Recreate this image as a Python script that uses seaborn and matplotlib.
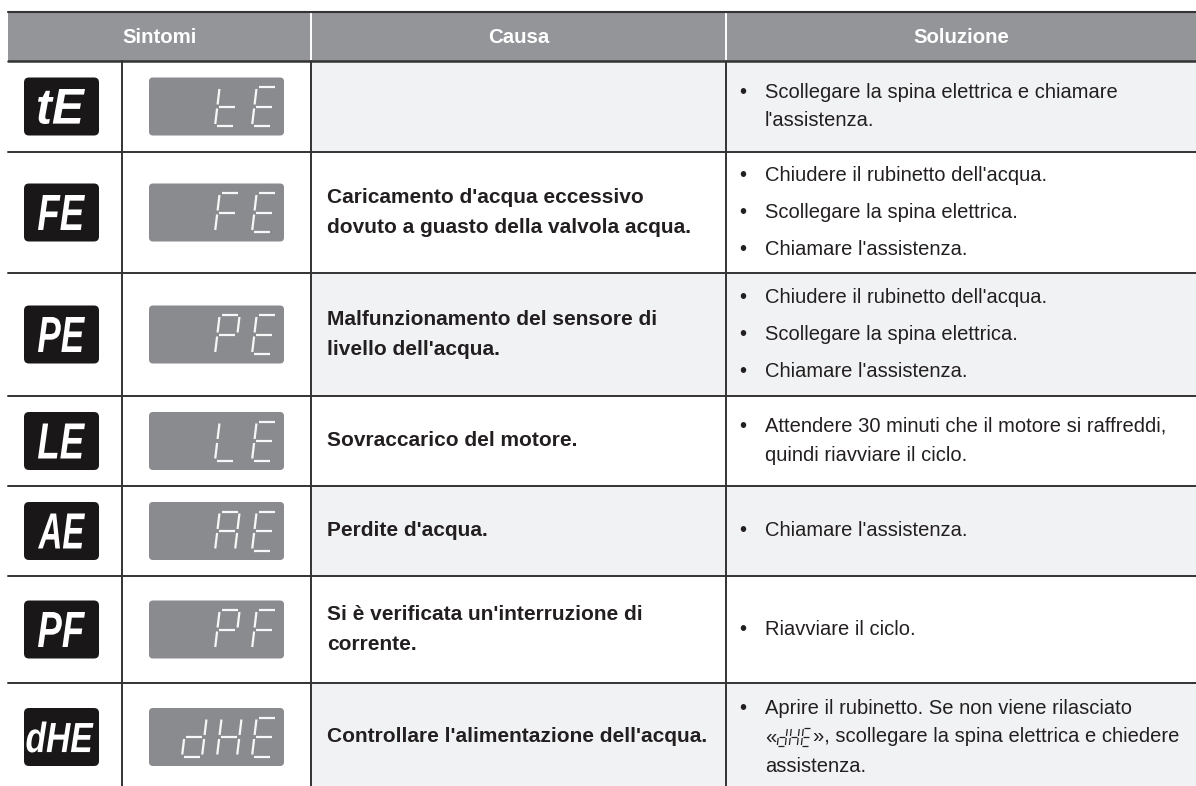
import re
import matplotlib
matplotlib.use("Agg")
import matplotlib.pyplot as plt
import matplotlib.transforms as mtransforms
import seaborn as sns
from matplotlib.patches import Rectangle, FancyBboxPatch, PathPatch
from matplotlib.textpath import TextPath
from matplotlib.font_manager import FontProperties

# -----------------------------
# TABLE CONTENT
# -----------------------------
headers = ["Sintomi", "Causa", "Soluzione"]

codes = ["tE", "FE", "PE", "LE", "AE", "PF", "dHE"]

causes = [
    [],
    ["Caricamento d'acqua eccessivo", "dovuto a guasto della valvola acqua."],
    ["Malfunzionamento del sensore di", "livello dell'acqua."],
    ["Sovraccarico del motore."],
    ["Perdite d'acqua."],
    ["Si è verificata un'interruzione di", "corrente."],
    ["Controllare l'alimentazione dell'acqua."],
]

solutions = [
    [["Scollegare la spina elettrica e chiamare", "l'assistenza."]],
    [["Chiudere il rubinetto dell'acqua."], ["Scollegare la spina elettrica."], ["Chiamare l'assistenza."]],
    [["Chiudere il rubinetto dell'acqua."], ["Scollegare la spina elettrica."], ["Chiamare l'assistenza."]],
    [["Attendere 30 minuti che il motore si raffreddi,", "quindi riavviare il ciclo."]],
    [["Chiamare l'assistenza."]],
    [["Riavviare il ciclo."]],
    [["Aprire il rubinetto. Se non viene rilasciato",
      "«{dHE}», scollegare la spina elettrica e chiedere",
      "assistenza."]],
]

shaded = [True, False, True, False, True, False, True]

# -----------------------------
# LAYOUT (pixels)
# -----------------------------
W, H = 1196, 786
x_left, x_c1, x_c2, x_c3, x_right = 8, 122, 311, 726, 1196
y_head_top, y_head_bot = 12, 61
row_heights = [91, 121, 123, 90, 90, 107, 108]

header_col = "#939598"
shade_col = "#f1f2f4"
line_col = "#333333"
text_col = "#231f20"
disp_col = "#8a8b8e"

SEG = {"t": "defg", "E": "adefg", "F": "aefg", "P": "abefg",
       "L": "def", "A": "abcefg", "d": "bcdeg", "H": "bcefg"}

sns.set_theme(style="white")
plt.rcParams["font.family"] = ["Liberation Sans", "DejaVu Sans"]

fig = plt.figure(figsize=(W / 100, H / 100), dpi=100)
ax = fig.add_axes([0, 0, 1, 1])
ax.set_xlim(0, W)
ax.set_ylim(H, 0)
ax.axis("off")
renderer = fig.canvas.get_renderer()


def seven_seg(ax, ch, x0, ytop, w, h, color, lw, gap=2.0, slant=0.12):
    segs = {
        "a": [(gap, 0), (w - gap, 0)],
        "b": [(w, gap), (w, h / 2 - gap)],
        "c": [(w, h / 2 + gap), (w, h - gap)],
        "d": [(gap, h), (w - gap, h)],
        "e": [(0, h / 2 + gap), (0, h - gap)],
        "f": [(0, gap), (0, h / 2 - gap)],
        "g": [(gap, h / 2), (w - gap, h / 2)],
    }
    for s in SEG[ch]:
        xs = [x0 + px + (h - py) * slant for px, py in segs[s]]
        ys = [ytop + py for px, py in segs[s]]
        ax.plot(xs, ys, color=color, lw=lw, solid_capstyle="butt")


def icon_text(ax, s, cx, cy, w, h):
    fp = FontProperties(family="Liberation Sans", weight="bold", style="italic")
    tp = TextPath((0, 0), s, size=100, prop=fp)
    bb = tp.get_extents()
    tr = (mtransforms.Affine2D()
          .translate(-bb.x0 - bb.width / 2, -bb.y0 - bb.height / 2)
          .scale(w / bb.width, -h / bb.height)
          .translate(cx, cy))
    ax.add_patch(PathPatch(tr.transform_path(tp), fc="white", ec="none"))


# -----------------------------
# HEADER
# -----------------------------
ax.add_patch(Rectangle((x_left, y_head_top), x_right - x_left, y_head_bot - y_head_top,
                       fc=header_col, ec="none"))
for xv in [x_c2, x_c3]:
    ax.plot([xv, xv], [y_head_top, y_head_bot], color="white", lw=1.4)
head_centers = [(x_left + x_c2) / 2, (x_c2 + x_c3) / 2, (x_c3 + x_right) / 2]
for hx, label in zip(head_centers, headers):
    ax.text(hx, (y_head_top + y_head_bot) / 2 + 1, label, color="white", fontsize=14.7,
            fontweight="bold", ha="center", va="center")

# -----------------------------
# BODY ROWS
# -----------------------------
y = y_head_bot
row_tops = []
for rh in row_heights:
    row_tops.append(y)
    y += rh
y_bottom = y

for i, code in enumerate(codes):
    top = row_tops[i]
    rh = row_heights[i]
    cy = top + rh / 2

    if shaded[i]:
        ax.add_patch(Rectangle((x_c2, top), x_right - x_c2, rh, fc=shade_col, ec="none"))

    # icon
    ax.add_patch(FancyBboxPatch((24, cy - 29), 75, 58,
                                boxstyle="round,pad=0,rounding_size=5",
                                fc="#1a1718", ec="none"))
    if len(code) == 2:
        icon_text(ax, code, 61.5, cy, 47, 35)
    else:
        icon_text(ax, code, 60, cy, 67, 31)

    # display
    ax.add_patch(FancyBboxPatch((149, cy - 29), 135, 58,
                                boxstyle="round,pad=0,rounding_size=4",
                                fc=disp_col, ec="none"))
    pitch = 37 if len(code) == 2 else 35
    for k, ch in enumerate(code):
        x0 = 252 - (len(code) - 1 - k) * pitch
        seven_seg(ax, ch, x0, cy - 19.5, 20, 39, "#f7f7f7", 1.6)

    # cause
    lines = causes[i]
    lsp = 29.5
    for j, ln in enumerate(lines):
        ly = cy - (len(lines) - 1) * lsp / 2 + j * lsp
        ax.text(327, ly, ln, color=text_col, fontsize=15, fontweight="bold",
                ha="left", va="center")

    # solution
    bullets = solutions[i]
    lsp, bsp = 29, 37
    block = sum((len(b) - 1) * lsp for b in bullets) + (len(bullets) - 1) * bsp
    ly = cy - block / 2
    for b in bullets:
        ax.text(743, ly, "•", color=text_col, fontsize=14.5, ha="center", va="center")
        for j, ln in enumerate(b):
            parts = re.split(r"\{(\w+)\}", ln)
            xx = 765
            for p_i, part in enumerate(parts):
                if p_i % 2 == 1:
                    for k, ch in enumerate(part):
                        seven_seg(ax, ch, xx + 1 + k * 12, ly - 9, 8, 18, text_col, 0.9,
                                  gap=1.0, slant=0.12)
                    xx += len(part) * 12 + 1
                elif part:
                    t = ax.text(xx, ly, part, color=text_col, fontsize=14.5,
                                ha="left", va="center")
                    bb = t.get_window_extent(renderer)
                    xx += bb.width
            if j < len(b) - 1:
                ly += lsp
        ly += bsp

# -----------------------------
# GRID LINES
# -----------------------------
ax.plot([x_left, x_right], [y_head_top, y_head_top], color=line_col, lw=1.5)
ax.plot([x_left, x_right], [y_head_bot, y_head_bot], color=line_col, lw=1.8)
for t in row_tops[1:]:
    ax.plot([x_left, x_right], [t, t], color=line_col, lw=1.4)
for xv in [x_c1, x_c2, x_c3]:
    ax.plot([xv, xv], [y_head_bot, y_bottom], color=line_col, lw=1.4)

plt.savefig("out.png", dpi=100)
plt.close()
